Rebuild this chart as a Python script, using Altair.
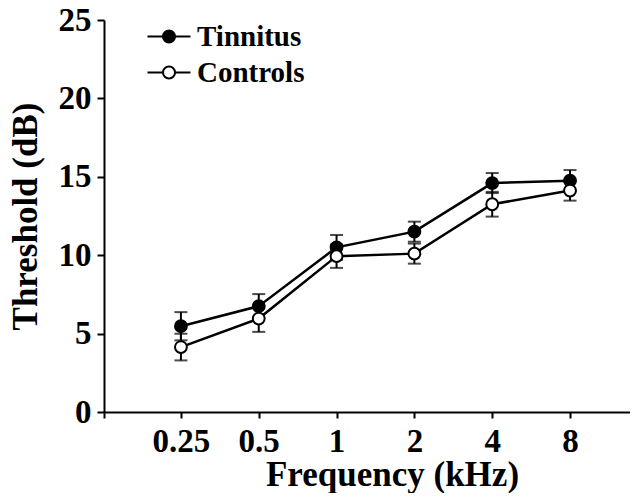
import altair as alt
import pandas as pd

freqs = [0.25, 0.5, 1, 2, 4, 8]
groups = ["Tinnitus", "Controls"]
tinnitus = [5.47, 6.75, 10.5, 11.5, 14.6, 14.75]
tinnitus_err = [0.9, 0.77, 0.79, 0.64, 0.64, 0.68]
controls = [4.14, 5.96, 9.94, 10.1, 13.25, 14.12]
controls_err = [0.85, 0.85, 0.75, 0.64, 0.79, 0.64]
y_ticks = [0, 5, 10, 15, 20, 25]

rows = []
for g, vals, errs in [("Tinnitus", tinnitus, tinnitus_err), ("Controls", controls, controls_err)]:
    for f, v, e in zip(freqs, vals, errs):
        rows.append({"freq": f, "group": g, "value": v, "lo": v - e, "hi": v + e})
df = pd.DataFrame(rows)

FONT = "Liberation Serif"
x_lo, x_hi = 0.126, 13.65

x_enc = alt.X(
    "freq:Q",
    scale=alt.Scale(type="log", base=2, domain=[x_lo, x_hi], nice=False),
    axis=alt.Axis(
        values=[x_lo] + freqs,
        labelExpr="datum.value < 0.2 ? '' : format(datum.value, '~g')",
        title="Frequency (kHz)",
        tickSize=6,
        labelPadding=33,
        labelBaseline="alphabetic",
        labelFontSize=33,
        titleFontSize=35,
        titleX=288,
        titleY=73,
        titleBaseline="alphabetic",
        titleAnchor="middle",
        titleAlign="center",
    ),
)
y_scale = alt.Scale(domain=[0, 25], nice=False)
y_axis = alt.Axis(
    values=y_ticks,
    title="Threshold (dB)",
    tickSize=7,
    labelPadding=6,
    labelFontSize=33,
    titleFontSize=35,
    titleAngle=-90,
    titleX=-79,
    titleY=196,
    titleBaseline="middle",
    titleAlign="center",
)

base = alt.Chart(df)

lines = base.mark_line(color="black", strokeWidth=2.5).encode(
    x=x_enc,
    y=alt.Y("value:Q", scale=y_scale, axis=y_axis),
    detail="group:N",
)
bars = base.mark_rule(color="black", strokeWidth=2).encode(
    x="freq:Q", y="lo:Q", y2="hi:Q"
)
cap_lo = base.mark_tick(color="black", orient="horizontal", size=13, thickness=2).encode(
    x="freq:Q", y="lo:Q"
)
cap_hi = base.mark_tick(color="black", orient="horizontal", size=13, thickness=2).encode(
    x="freq:Q", y="hi:Q"
)

sym = "M-3.07,0L-0.86,0M0.86,0L3.07,0M-0.86,0A0.86,0.86,0,1,1,0.86,0A0.86,0.86,0,1,1,-0.86,0Z"
points = base.mark_point(filled=True, stroke="black", strokeWidth=2, size=140, opacity=1).encode(
    x="freq:Q",
    y="value:Q",
    fill=alt.Fill(
        "group:N",
        scale=alt.Scale(domain=groups, range=["black", "white"]),
        legend=alt.Legend(
            title=None,
            orient="none",
            legendX=50.5,
            legendY=2,
            padding=0,
            symbolType=sym,
            symbolSize=196,
            symbolStrokeColor="black",
            symbolStrokeWidth=2,
            symbolOpacity=1,
            labelFont=FONT,
            labelFontWeight="bold",
            labelFontSize=29,
            labelColor="black",
            labelOffset=13.5,
            rowPadding=6,
        ),
    ),
)

chart = (
    alt.layer(lines, bars, cap_lo, cap_hi, points)
    .properties(
        width=526,
        height=392,
        autosize=alt.AutoSizeParams(type="none"),
        padding={"left": 96, "top": 12, "right": 0, "bottom": 81},
    )
    .configure_view(stroke=None)
    .configure_axis(
        grid=False,
        domainColor="black",
        domainWidth=2,
        tickColor="black",
        tickWidth=2,
        labelColor="black",
        titleColor="black",
        labelFont=FONT,
        titleFont=FONT,
        labelFontWeight="bold",
        titleFontWeight="bold",
    )
)

chart.save("out.html", embed_options={"renderer": "svg", "actions": False})
